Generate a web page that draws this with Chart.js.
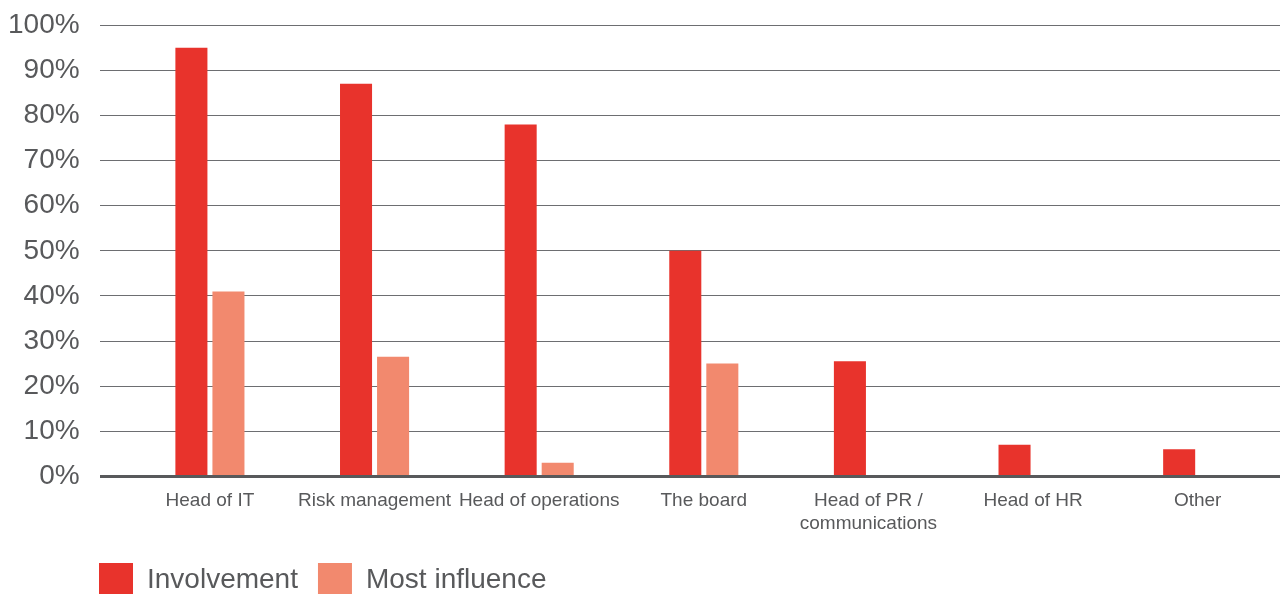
<!DOCTYPE html>
<html>
<head>
<meta charset="utf-8">
<script src="https://cdn.jsdelivr.net/npm/chart.js@4"></script>
<style>
  html, body { margin: 0; padding: 0; background: #fff; }
  #wrap { width: 1280px; height: 594px; }
</style>
</head>
<body>
<div id="wrap"><canvas id="myChart"></canvas></div>
<script>
const categories = ['Head of IT', 'Risk management', 'Head of operations', 'The board', ['Head of PR /', 'communications'], 'Head of HR', 'Other'];
const involvement = [95, 87, 78, 50, 25.5, 7, 6];
const mostInfluence = [41, 26.5, 3, 25, 0, 0, 0];
const yTicks = [0, 10, 20, 30, 40, 50, 60, 70, 80, 90, 100];

const grey = '#58595b';
const fontFamily = '"Liberation Sans", Arial, sans-serif';

// legend sits lower-left in the reference, and the categories start a bit right of the grid
const placeBoxes = {
  id: 'placeBoxes',
  afterLayout(chart) {
    const lg = chart.legend;
    const h = lg.bottom - lg.top;
    lg.left = 79;
    lg.top = 543;
    lg.bottom = lg.top + h;

    const x = chart.scales.x;
    x.left = chart.chartArea.left + 28;
    x.configure();
  }
};

const ctx = document.getElementById('myChart').getContext('2d');
let myChart = new Chart(ctx, {
  type: 'bar',
  data: {
    labels: categories,
    datasets: [
      {
        label: 'Involvement',
        data: involvement,
        backgroundColor: '#e8332c',
        categoryPercentage: 0.45,
        barPercentage: 0.865
      },
      {
        label: 'Most influence',
        data: mostInfluence,
        backgroundColor: '#f2896e',
        categoryPercentage: 0.45,
        barPercentage: 0.865
      }
    ]
  },
  options: {
    responsive: true,
    maintainAspectRatio: false,
    animation: false,
    layout: { padding: { top: 0, right: 0, left: -12, bottom: -10 } },
    plugins: {
      tooltip: { enabled: false },
      legend: {
        position: 'bottom',
        align: 'start',
        labels: {
          boxWidth: 34,
          boxHeight: 34,
          padding: 20,
          color: grey,
          font: { size: 28, family: fontFamily }
        }
      }
    },
    scales: {
      x: {
        grid: { display: false },
        border: { display: false },
        ticks: {
          color: grey,
          padding: 5,
          maxRotation: 0,
          autoSkip: false,
          font: { size: 19, family: fontFamily }
        }
      },
      y: {
        min: 0,
        max: 100,
        afterBuildTicks: axis => { axis.ticks = yTicks.map(v => ({ value: v })); },
        border: { display: false },
        grid: {
          color: c => c.tick && c.tick.value === 0 ? grey : '#6d6e71',
          lineWidth: c => c.tick && c.tick.value === 0 ? 3 : 1,
          drawTicks: false
        },
        ticks: {
          color: grey,
          padding: 20,
          font: { size: 28, family: fontFamily, lineHeight: 0.37 },
          callback: v => v + '%'
        }
      }
    }
  },
  plugins: [placeBoxes]
});
</script>
</body>
</html>
